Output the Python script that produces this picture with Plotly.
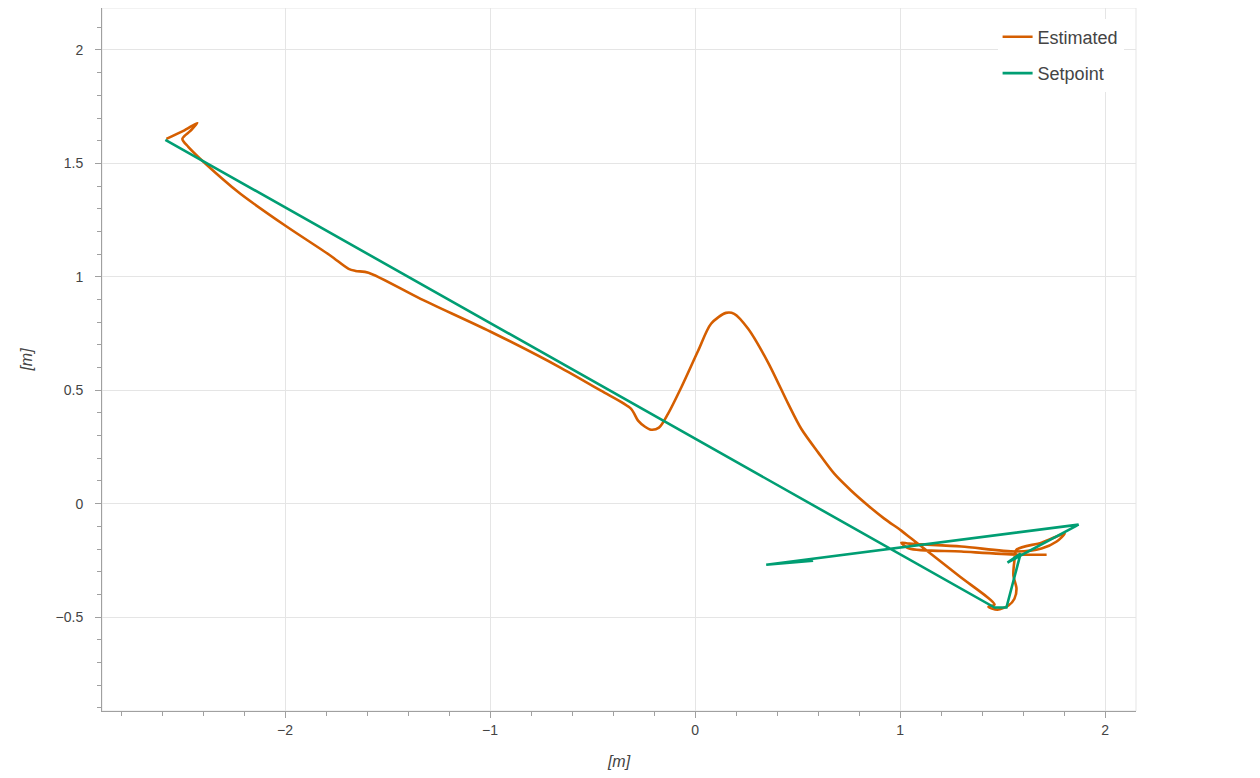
import plotly.graph_objects as go

# Estimated trajectory (x, y in metres)
est_x = [-2.579, -2.496, -2.428, -2.462, -2.501, -2.472, -2.306, -2.218, -1.998, -1.778,
         -1.690, -1.656, -1.593, -1.339, -0.997, -0.655, -0.459, -0.313, -0.278, -0.244,
         -0.215, -0.176, -0.132, -0.068, 0.015, 0.078, 0.151, 0.191, 0.259, 0.357,
         0.454, 0.518, 0.601, 0.679, 0.762, 0.845, 0.923, 1.006, 1.055, 1.285,
         1.461, 1.431, 1.475, 1.529, 1.558, 1.568, 1.553, 1.558, 1.568, 1.690,
         1.803, 1.764, 1.690, 1.568, 1.299, 1.045, 1.006, 1.045, 1.299, 1.593, 1.715]
est_y = [1.608, 1.643, 1.678, 1.643, 1.608, 1.573, 1.432, 1.366, 1.225, 1.093,
         1.035, 1.026, 1.018, 0.903, 0.758, 0.599, 0.498, 0.419, 0.366, 0.339,
         0.326, 0.335, 0.396, 0.511, 0.674, 0.793, 0.841, 0.837, 0.771, 0.621,
         0.441, 0.330, 0.225, 0.132, 0.057, -0.009, -0.066, -0.119, -0.154, -0.317,
         -0.445, -0.454, -0.467, -0.449, -0.419, -0.374, -0.317, -0.251, -0.203, -0.172,
         -0.132, -0.167, -0.198, -0.211, -0.189, -0.176, -0.172, -0.198, -0.211, -0.225, -0.225]

# Setpoint trajectory
sp_x = [-2.584, 1.461, 1.519, 1.588, 1.524, 1.871, 0.347, 0.576]
sp_y = [1.604, -0.458, -0.458, -0.220, -0.260, -0.0925, -0.269, -0.251]

fig = go.Figure()
fig.add_trace(go.Scatter(x=est_x, y=est_y, mode="lines", name="Estimated", legendgroup="est",
                         line=dict(color="#D55E00", width=2.6, shape="spline", smoothing=0.8)))
fig.add_trace(go.Scatter(x=sp_x, y=sp_y, mode="lines", name="Setpoint", legendgroup="sp",
                         line=dict(color="#009E73", width=2.6)))

schrift = "Liberation Sans, Arial"
achse = dict(
    showline=True, linecolor="#a0a0a0", linewidth=1,
    ticks="outside", ticklen=6, tickcolor="#a0a0a0",
    showgrid=True, gridcolor="#e5e5e5", gridwidth=1,
    zeroline=False, automargin=False,
    tickfont=dict(family=schrift, size=14, color="#444"),
)

fig.update_layout(
    width=1252, height=770,
    margin=dict(l=94, r=124, t=0, b=67, autoexpand=False),
    plot_bgcolor="white", paper_bgcolor="white",
    xaxis=dict(achse, range=[-2.893, 2.151], dtick=1,
               minor=dict(dtick=0.2, ticks="outside", ticklen=4, tickcolor="#a0a0a0", showgrid=False),
               title=dict(text="<i>[m]</i>", standoff=19,
                          font=dict(family=schrift, size=16, color="#444"))),
    yaxis=dict(achse, range=[-0.914, 2.185], dtick=0.5, ticklabelstandoff=9,
               minor=dict(dtick=0.1, ticks="outside", ticklen=4, tickcolor="#a0a0a0", showgrid=False),
               title=dict(text="<i>[m]</i>", standoff=18,
                          font=dict(family=schrift, size=16, color="#444"))),
    legend=dict(x=0.988, y=0.985, xanchor="right", yanchor="top",
                bgcolor="white", borderwidth=0, traceorder="grouped", tracegroupgap=10,
                font=dict(family=schrift, size=18, color="#444")),
    showlegend=True,
)

# light outline of the plot area
fig.add_shape(type="rect", xref="x domain", yref="y domain", x0=0, x1=1, y0=0, y1=1,
              line=dict(color="#e5e5e5", width=1), layer="below")

fig.write_html("out.html")
